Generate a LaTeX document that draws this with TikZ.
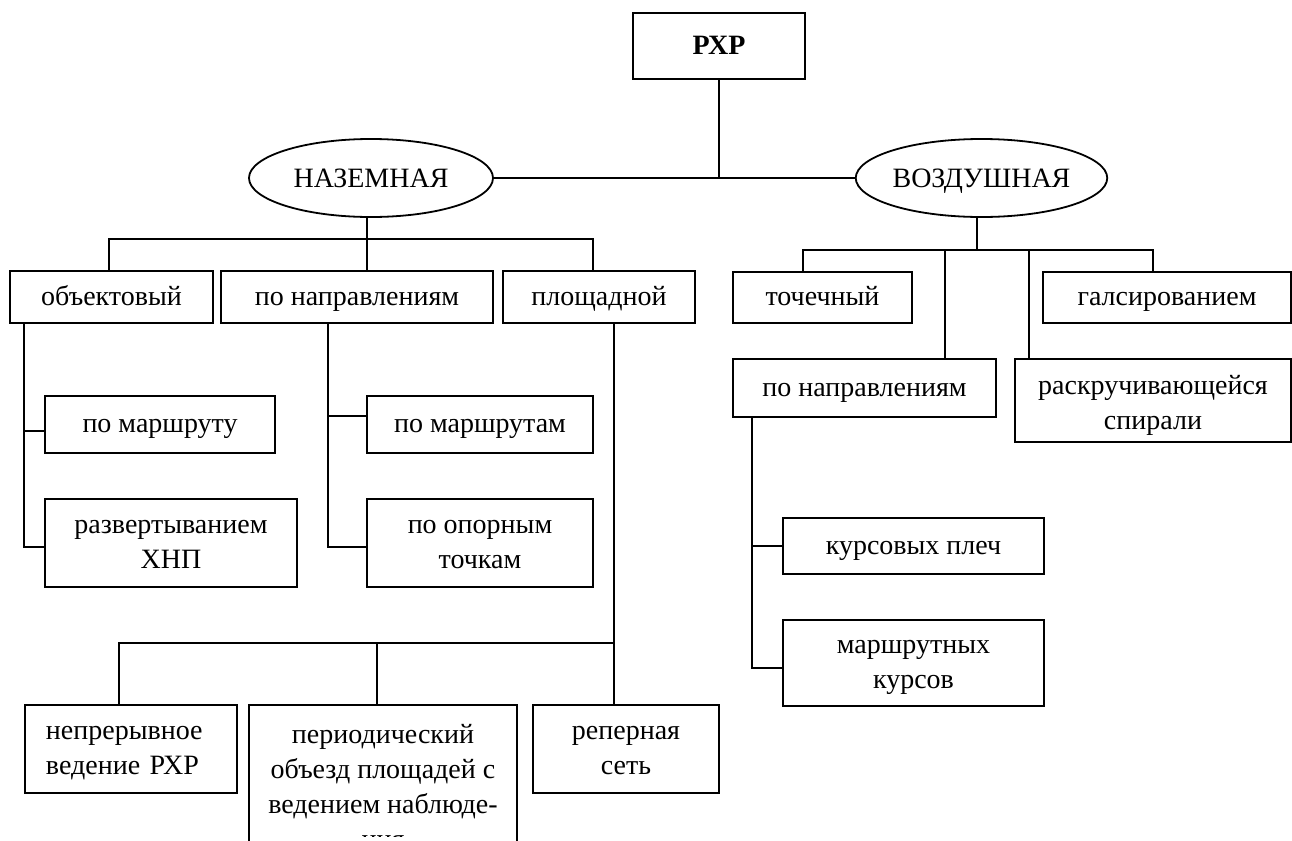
\documentclass[tikz,border=0pt]{standalone}
\usepackage{fontspec}
\setmainfont{Liberation Serif}
\usetikzlibrary{shapes.geometric}

\begin{document}
\begin{tikzpicture}[x=0.5pt, y=-0.5pt, line width=0.9pt,
  every node/.append style={font=\fontsize{14}{17.5}\selectfont},
  box/.style={draw, rectangle, inner sep=0pt, align=center, text height=11.5pt, text depth=3.5pt},
  two/.style={text height=29pt},
  oval/.style={draw, ellipse, inner sep=0pt, minimum width=122pt, minimum height=39pt, text height=12.5pt, text depth=3.5pt}]
  \useasboundingbox (0,0) rectangle (1292,841);
  \clip (0,0) rectangle (1292,841);
  % top level
  \node [box, minimum width=86pt, minimum height=33pt] (rxp) at (719,46) {\textbf{РХР}};
  \node [oval] (naz) at (371,178) {НАЗЕМНАЯ};
  \node [oval] (voz) at (981.5,178) {ВОЗДУШНАЯ};
  \draw (rxp.south) -- (rxp.south |- naz.east);
  \draw (naz) -- (voz);

  % ground
  \node [box, minimum width=101.5pt, minimum height=26pt] (obj) at (111.5,297) {объектовый};
  \node [box, minimum width=136pt, minimum height=26pt] (napr) at (357,297) {по направлениям};
  \node [box, minimum width=96pt, minimum height=26pt] (plo) at (599,297) {площадной};
  \node [box, minimum width=115pt, minimum height=28.5pt] (mrt) at (160,424.5) {по маршруту};
  \node [box, two, minimum width=126pt, minimum height=44pt] (hnp) at (171,543) {развертыванием\\ХНП};
  \node [box, minimum width=113pt, minimum height=28.5pt] (mar) at (480,424.5) {по маршрутам};
  \node [box, two, minimum width=113pt, minimum height=44pt] (opr) at (480,543) {по опорным\\точкам};
  \node [box, minimum width=106pt, minimum height=44pt, text width=85pt, align=left, text depth=21pt] (nep) at (131,749) {непрерывное\\ведение РХР};
  \node [box, minimum width=134pt, minimum height=97.5pt] (per) at (383,802.5) {};
  \node [box, two, minimum width=93pt, minimum height=44pt] (rep) at (626,749) {реперная\\сеть};
  \begin{scope}
    \clip (249,705) rectangle (517,836);
    \node [align=center, anchor=base, inner sep=0pt] (pertxt) at (383,848) {периодический\\объезд площадей с\\ведением наблюде-\\ния};
  \end{scope}

  \coordinate (nbus) at (367,239);
  \draw (naz.south -| nbus) -- (nbus |- napr.north);
  \draw ([xshift=-1.25pt]obj.north) |- (nbus) -| ([xshift=-3pt]plo.north);
  \coordinate (otr) at ([xshift=7.5pt]obj.south west);
  \draw (otr) |- ([yshift=-2pt]hnp.west);
  \coordinate (m1) at ([yshift=-3.25pt]mrt.west);
  \draw (m1) -- (m1 -| otr);
  \coordinate (ntr) at ([xshift=-14.5pt]napr.south);
  \draw (ntr) |- ([yshift=-2pt]opr.west);
  \coordinate (m2) at ([yshift=4.25pt]mar.west);
  \draw (m2) -- (m2 -| ntr);
  \coordinate (ptr) at ([xshift=56pt]plo.south west);
  \draw (ptr) -- (ptr |- rep.north);
  \coordinate (pbus) at (615,643);
  \draw ([xshift=-6pt]nep.north) |- (pbus);
  \coordinate (d3) at ([xshift=-3pt]per.north);
  \draw (d3) -- (d3 |- pbus);

  % air
  \node [box, minimum width=89.5pt, minimum height=25.5pt] (tch) at (822.5,297.5) {точечный};
  \node [box, minimum width=124pt, minimum height=25.5pt] (gal) at (1167,297.5) {галсированием};
  \node [box, minimum width=131.5pt, minimum height=29pt] (napr2) at (864.5,388) {по направлениям};
  \node [box, minimum width=138pt, minimum height=41.5pt] (spir) at (1153,400.5) {};
  \begin{scope}
    \clip (1015,359) rectangle (1291,442);
    \node [align=center, anchor=base, inner sep=0pt] (spirtxt) at (1153,429) {раскручивающейся\\спирали};
  \end{scope}
  \node [box, minimum width=130.5pt, minimum height=28pt] (kur) at (913.5,546) {курсовых плеч};
  \node [box, two, minimum width=130.5pt, minimum height=43pt] (mkr) at (913.5,663) {маршрутных\\курсов};

  \coordinate (vbus) at (977,250);
  \draw (voz.south -| vbus) -- (vbus);
  \draw ([xshift=-9.75pt]tch.north) |- (vbus) -| ([xshift=-7pt]gal.north);
  \coordinate (d1) at ([xshift=40.25pt]napr2.north);
  \draw (d1) -- (d1 |- vbus);
  \coordinate (d2) at ([xshift=7.5pt]spir.north west);
  \draw (d2) -- (d2 |- vbus);
  \coordinate (vtr) at ([xshift=10pt]napr2.south west);
  \draw (vtr) |- ([yshift=-2.5pt]mkr.west);
  \draw (kur.west) -- (kur.west -| vtr);
\end{tikzpicture}
\end{document}
